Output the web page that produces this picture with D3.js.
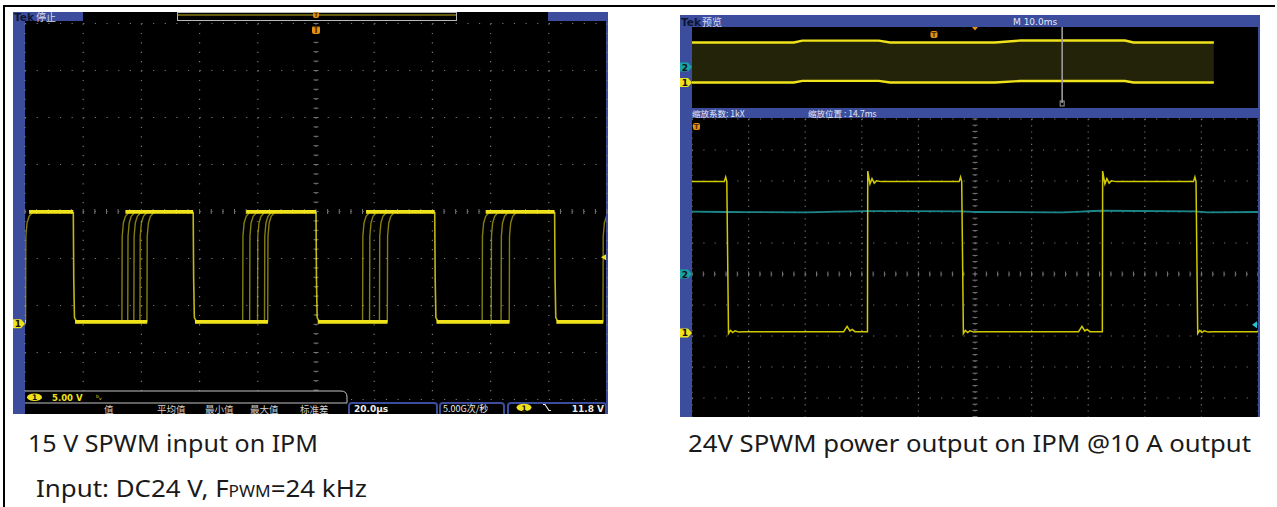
<!DOCTYPE html>
<html><head><meta charset="utf-8">
<script src="https://cdn.jsdelivr.net/npm/d3@7"></script>
<style>
body{margin:0;background:#fff}
svg{display:block}
text{font-family:"DejaVu Sans",sans-serif}
.cjk{font-family:"Noto Sans CJK SC",sans-serif}
.cap{font-family:"Noto Sans",sans-serif;font-size:24px;fill:#1a1a1a}
</style></head><body>
<svg id="c" width="1277" height="507"></svg>
<script>
// ---- left scope: ch1 5 V/div, 20 us/div, times in us from trigger ----
var leftFalls = [-83.4, -42.2, 0, 40.8, 82.0];
var leftRises = [[-99.8], [-66.7, -64.7, -62.6, -60.5, -58.1], [-25.2, -22.8, -20.1, -17.7, -16.6],
                 [16.0, 18.4, 21.8, 24.5], [57.1, 60.2, 63.6, 66.4], [98.6]];
var leftLevels = [0.2, 11.9];
var riseCurve = [[0, 0], [0.1, 0.78], [0.5, 0.9], [1.2, 0.96], [2.5, 1]];
var fallCurve = [[0, 1], [0.15, 0.4], [0.4, 0.04], [1.2, 0]];

// ---- right scope zoom window: ch1 5 V/div, ch2 5 A/div, 10 us/div ----
var rightFalls = [-43.9, -2.4, 39.0];
var rightRises = [-19.0, 22.5];
var rightLevels = [0.2, 24.4];
var ringRise = [[0, 0], [0.05, 1.07], [0.45, 0.985], [0.8, 1.02], [1.2, 0.99], [1.6, 1.006], [2.4, 1]];
var ringFall = [[-0.4, 1], [-0.15, 1.03], [0.05, 1.0], [0.35, -0.012], [0.7, 0.008], [1.1, -0.006], [1.5, 0.006], [2.2, -0.003], [3, 0]];
var bumpLow = [[-4.2, 0], [-3.6, 0.035], [-3.1, 0.005], [-2.7, 0.015], [-2.2, 0]];
var ch2Time = [-50, -44, -30, -19, -2.4, 0, 15, 22.5, 39, 41, 50];
var ch2Amp = [10.05, 10.0, 9.95, 10.15, 10.1, 10.0, 9.95, 10.2, 10.1, 9.95, 10.0];

// ---- right scope overview: 10 ms/div, envelope in volts ----
var ovTime = [0, 18, 19.5, 33, 35, 53.5, 58, 76.5, 78, 92.2];
var ovTop = [24, 24, 25.1, 25.1, 24, 24, 25.2, 25.2, 24, 24];
var ovBottom = [0, 0, 1.0, 1.0, 0, 0, 0.9, 0.9, 0, 0];
var zoomMark = 65.4;

var svg = d3.select('#c');
var BLUE = '#3b4d9c', YEL = '#f0e31c', GRID = '#767676', ORANGE = '#e8900e';

// table borders of the page
svg.append('rect').attr('x', 3).attr('y', 5).attr('width', 1272).attr('height', 2).attr('fill', '#000');
svg.append('rect').attr('x', 3).attr('y', 5).attr('width', 2).attr('height', 502).attr('fill', '#000');

function graticule(g, x, y, xt, yt, xc, yc) {
    var top = d3.min(y.range()), bot = d3.max(y.range());
    var left = d3.min(x.range()), right = d3.max(x.range());
    var dx = (x(xt[1]) - x(xt[0])) / 5, dy = Math.abs(y(yt[1]) - y(yt[0])) / 5;
    g.selectAll(null).data(xt).enter().append('line')
        .attr('x1', x).attr('x2', x).attr('y1', top).attr('y2', bot)
        .attr('stroke', GRID).attr('stroke-width', 1.2).attr('stroke-dasharray', '1.2,' + (dy - 1.2));
    g.selectAll(null).data(yt).enter().append('line')
        .attr('y1', y).attr('y2', y).attr('x1', left).attr('x2', right)
        .attr('stroke', GRID).attr('stroke-width', 1.2).attr('stroke-dasharray', '1.2,' + (dx - 1.2));
    g.selectAll(null).data(d3.range(left, right + 0.1, dx)).enter().append('line')
        .attr('x1', function(d) { return d; }).attr('x2', function(d) { return d; })
        .attr('y1', y(yc) - 2.5).attr('y2', y(yc) + 2.5).attr('stroke', GRID);
    g.selectAll(null).data(d3.range(top, bot + 0.1, dy)).enter().append('line')
        .attr('y1', function(d) { return d; }).attr('y2', function(d) { return d; })
        .attr('x1', x(xc) - 2.5).attr('x2', x(xc) + 2.5).attr('stroke', GRID);
}

function chanTag(g, x, y, label, fill) {
    g.append('path').attr('d', 'M' + x + ',' + (y - 4.5) + 'h8l4,4.5l-4,4.5h-8z').attr('fill', fill);
    g.append('text').attr('x', x + 5).attr('y', y + 3.5).attr('text-anchor', 'middle')
        .attr('font-size', 9).attr('font-weight', 'bold').attr('fill', '#111').text(label);
}

function trigTag(g, x, y, w) {
    g.append('rect').attr('x', x - w / 2).attr('y', y).attr('width', w).attr('height', w)
        .attr('rx', 2).attr('fill', ORANGE);
    g.append('text').attr('x', x).attr('y', y + w - 1.5).attr('text-anchor', 'middle')
        .attr('font-size', w).attr('font-weight', 'bold').attr('fill', '#5a2c00').text('T');
}

// =================== LEFT SCOPE ===================
svg.append('clipPath').attr('id', 'clipL').append('rect')
    .attr('x', 13).attr('y', 12).attr('width', 595).attr('height', 402);
svg.append('clipPath').attr('id', 'plotL').append('rect')
    .attr('x', 25).attr('y', 21).attr('width', 581).attr('height', 393);
var L = svg.append('g').attr('clip-path', 'url(#clipL)');
L.append('rect').attr('x', 13).attr('y', 12).attr('width', 595).attr('height', 402).attr('fill', BLUE);
L.append('rect').attr('x', 25).attr('y', 21).attr('width', 581).attr('height', 393).attr('fill', '#000');

// header
L.append('rect').attr('x', 83).attr('y', 12).attr('width', 465).attr('height', 9).attr('fill', '#000');
L.append('rect').attr('x', 177.5).attr('y', 12.5).attr('width', 279).attr('height', 8)
    .attr('fill', 'none').attr('stroke', '#b8b8b8').attr('stroke-width', 1);
L.append('line').attr('x1', 178).attr('x2', 456).attr('y1', 15).attr('y2', 15).attr('stroke', '#c9b21a').attr('stroke-width', 1.2);
L.append('text').attr('x', 14).attr('y', 20.5).attr('font-size', 10.5).attr('font-weight', 'bold').attr('fill', '#0e1430').text('Tek');
L.append('text').attr('class', 'cjk').attr('x', 36).attr('y', 20.5).attr('font-size', 10).attr('fill', '#d8dcf0').text('停止');

var xL = d3.scaleLinear().domain([-100, 100]).range([25, 607]);
var divL = d3.scaleLinear().domain([-4, 4]).range([399.5, 23.5]);
function ch1L(v) { return divL(v / 5 - 2.39); }

var gridL = L.append('g');
graticule(gridL, xL, divL, d3.range(-100, 101, 20), d3.range(-4, 5, 1), 0, 0);

var lineL = d3.line().x(function(d) { return xL(d[0]); }).y(function(d) { return ch1L(d[1]); });
var lo = leftLevels[0], hi = leftLevels[1];
function lvl(f, a, b) { return a + f * (b - a); }
var traceL = L.append('g').attr('clip-path', 'url(#plotL)');
leftRises.forEach(function(grp, k) {
    var prevFall = k == 0 ? -110 : leftFalls[k - 1];
    var nextFall = k < leftFalls.length ? leftFalls[k] : 110;
    var first = d3.min(grp), last = d3.max(grp);
    traceL.append('path').datum([[prevFall + 0.6, lo], [last + 0.1, lo]]).attr('d', lineL)
        .attr('stroke', YEL).attr('stroke-width', 3.8).attr('fill', 'none');
    traceL.append('path').datum([[first + 1.2, hi], [nextFall, hi]]).attr('d', lineL)
        .attr('stroke', YEL).attr('stroke-width', 3.8).attr('fill', 'none');
    grp.forEach(function(r) {
        traceL.append('path').datum(riseCurve.map(function(p) { return [r + p[0], lvl(p[1], lo, hi)]; }))
            .attr('d', lineL).attr('stroke', YEL).attr('stroke-width', 1.4).attr('opacity', 0.55).attr('fill', 'none');
    });
    if (k < leftFalls.length)
        traceL.append('path').datum(fallCurve.map(function(p) { return [nextFall + p[0], lvl(p[1], lo, hi)]; }))
            .attr('d', lineL).attr('stroke', YEL).attr('stroke-width', 1.6).attr('opacity', 0.8).attr('fill', 'none');
});

chanTag(L, 13, ch1L(0), '1', YEL);
trigTag(L, xL(0), 12, 6);
trigTag(L, xL(0), 26, 8);
L.append('path').attr('d', 'M' + 601 + ',' + ch1L(11.8 * 0.6) + 'l5,-3v6z').attr('fill', YEL);

// bottom readouts
L.append('path').attr('d', 'M25,414V391H341Q347,391 347,397V414Z').attr('fill', '#000');
L.append('path').attr('d', 'M25,391H341Q347,391 347,397V403H25').attr('fill', 'none').attr('stroke', '#c4c4c4').attr('stroke-width', 1);
L.append('ellipse').attr('cx', 34.5).attr('cy', 397.3).attr('rx', 7.5).attr('ry', 3.8).attr('fill', YEL);
L.append('text').attr('x', 34.5).attr('y', 400.3).attr('text-anchor', 'middle').attr('font-size', 7.5).attr('font-weight', 'bold').attr('fill', '#111').text('1');
L.append('text').attr('x', 52).attr('y', 401).attr('font-size', 8.5).attr('font-weight', 'bold').attr('fill', YEL).text('5.00 V');
L.append('text').attr('x', 96).attr('y', 400).attr('font-size', 7).attr('fill', YEL).text('ᵇᵥ');
[['值', 104], ['平均值', 157], ['最小值', 205], ['最大值', 250], ['标准差', 300]].forEach(function(d) {
    L.append('text').attr('class', 'cjk').attr('x', d[1]).attr('y', 412.5).attr('font-size', 9.5).attr('fill', '#cfcfcf').text(d[0]);
});
function box(x0, x1) {
    L.append('path').attr('d', 'M' + x0 + ',416V406Q' + x0 + ',403 ' + (x0 + 3) + ',403H' + (x1 - 3) + 'Q' + x1 + ',403 ' + x1 + ',406V416')
        .attr('fill', '#000').attr('stroke', BLUE).attr('stroke-width', 2);
}
box(349, 437); box(440, 504); box(508, 606);
L.append('text').attr('x', 354).attr('y', 412).attr('font-size', 9).attr('font-weight', 'bold').attr('fill', '#eee').text('20.0µs');
L.append('text').attr('x', 354).attr('y', 421).attr('font-size', 9).attr('font-weight', 'bold').attr('fill', ORANGE).text('T ▸ 0.0000');
L.append('text').attr('class', 'cjk').attr('x', 443).attr('y', 412).attr('font-size', 9).attr('fill', '#eee').text('5.00G次/秒');
L.append('text').attr('x', 448).attr('y', 421).attr('font-size', 9).attr('fill', '#aaa').text('100k点');
L.append('ellipse').attr('cx', 524).attr('cy', 407.5).attr('rx', 7.5).attr('ry', 3.8).attr('fill', YEL);
L.append('text').attr('x', 524).attr('y', 410.5).attr('text-anchor', 'middle').attr('font-size', 7.5).attr('font-weight', 'bold').attr('fill', '#111').text('1');
L.append('path').attr('d', 'M543,404.5h2l4,6h2').attr('fill', 'none').attr('stroke', '#eee').attr('stroke-width', 1.2);
L.append('text').attr('x', 604).attr('y', 412).attr('text-anchor', 'end').attr('font-size', 9).attr('font-weight', 'bold').attr('fill', '#eee').text('11.8 V');

// =================== RIGHT SCOPE ===================
svg.append('clipPath').attr('id', 'clipR').append('rect')
    .attr('x', 680).attr('y', 15).attr('width', 580).attr('height', 402);
svg.append('clipPath').attr('id', 'plotR').append('rect')
    .attr('x', 692).attr('y', 118).attr('width', 566).attr('height', 299);
svg.append('clipPath').attr('id', 'ovR').append('rect')
    .attr('x', 692).attr('y', 27).attr('width', 566).attr('height', 81);
var R = svg.append('g').attr('clip-path', 'url(#clipR)');
R.append('rect').attr('x', 680).attr('y', 15).attr('width', 580).attr('height', 402).attr('fill', BLUE);
R.append('rect').attr('x', 692).attr('y', 27).attr('width', 566).attr('height', 81).attr('fill', '#000');
R.append('rect').attr('x', 692).attr('y', 118).attr('width', 566).attr('height', 299).attr('fill', '#000');
R.append('text').attr('x', 681).attr('y', 25.5).attr('font-size', 10.5).attr('font-weight', 'bold').attr('fill', '#0e1430').text('Tek');
R.append('text').attr('class', 'cjk').attr('x', 702).attr('y', 25.5).attr('font-size', 10).attr('fill', '#d8dcf0').text('预览');
R.append('text').attr('x', 1013).attr('y', 25).attr('font-size', 9).attr('fill', '#e6e8f4').text('M 10.0ms');
R.append('text').attr('class', 'cjk').attr('x', 692).attr('y', 116.5).attr('font-size', 8.5).attr('fill', '#e6e8f4').text('缩放系数: 1kX');
R.append('text').attr('class', 'cjk').attr('x', 808).attr('y', 116.5).attr('font-size', 8.5).attr('fill', '#e6e8f4').text('缩放位置 :  14.7ms');

// overview
var ovX = d3.scaleLinear().domain([0, 100]).range([692, 1258]);
var ovY = d3.scaleLinear().domain([0, 24]).range([82.5, 42.5]);
var ov = R.append('g').attr('clip-path', 'url(#ovR)');
var idx = d3.range(ovTime.length);
ov.append('path').datum(idx).attr('fill', '#232309')
    .attr('d', d3.area().x(function(i) { return ovX(ovTime[i]); })
        .y0(function(i) { return ovY(ovBottom[i]); }).y1(function(i) { return ovY(ovTop[i]); }));
[ovTop, ovBottom].forEach(function(arr) {
    ov.append('path').datum(idx).attr('fill', 'none').attr('stroke', YEL).attr('stroke-width', 2.4)
        .attr('d', d3.line().x(function(i) { return ovX(ovTime[i]); }).y(function(i) { return ovY(arr[i]); }));
});
ov.append('line').attr('x1', ovX(zoomMark)).attr('x2', ovX(zoomMark)).attr('y1', 27).attr('y2', 103)
    .attr('stroke', '#9c9c9c').attr('stroke-width', 1.6);
ov.append('rect').attr('x', ovX(zoomMark) - 2).attr('y', 101).attr('width', 4).attr('height', 5)
    .attr('fill', 'none').attr('stroke', '#9c9c9c').attr('stroke-width', 1);
R.append('path').attr('d', 'M972,27h6l-3,3.5z').attr('fill', ORANGE);
trigTag(R, 934, 31, 7);
chanTag(R, 680, 67, '2', '#17a3a6');
chanTag(R, 680, ovY(0), '1', YEL);

// zoom window
var xR = d3.scaleLinear().domain([-50, 50]).range([692, 1258]);
var divR = d3.scaleLinear().domain([-5, 5]).range([429, 119]);
function ch1R(v) { return divR(v / 5 - 1.9); }
function ch2R(a) { return divR(a / 5); }
var plotR = R.append('g').attr('clip-path', 'url(#plotR)');
graticule(plotR, xR, divR, d3.range(-50, 51, 10), d3.range(-5, 6, 1), 0, 0);

plotR.append('path').datum(d3.range(ch2Time.length)).attr('fill', 'none')
    .attr('stroke', '#1c8689').attr('stroke-width', 1.8)
    .attr('d', d3.line().curve(d3.curveMonotoneX)
        .x(function(i) { return xR(ch2Time[i]); }).y(function(i) { return ch2R(ch2Amp[i]); }));

var rLo = rightLevels[0], rHi = rightLevels[1];
var events = rightFalls.map(function(t) { return { t: t, up: false }; })
    .concat(rightRises.map(function(t) { return { t: t, up: true }; }))
    .sort(function(a, b) { return a.t - b.t; });
var pts = [[-50, rHi]];
events.forEach(function(e) {
    var shape = e.up ? bumpLow.concat(ringRise) : ringFall;
    shape.forEach(function(p) { pts.push([e.t + p[0], lvl(p[1], rLo, rHi)]); });
});
pts.push([50, events[events.length - 1].up ? rHi : rLo]);
plotR.append('path').datum(pts).attr('fill', 'none').attr('stroke', '#d2ca00').attr('stroke-width', 1.5)
    .attr('d', d3.line().x(function(d) { return xR(d[0]); }).y(function(d) { return ch1R(d[1]); }));

trigTag(R, 696.5, 123, 7);
chanTag(R, 680, ch2R(0), '2', '#17a3a6');
chanTag(R, 680, ch1R(0), '1', YEL);
R.append('path').attr('d', 'M1252,' + ch2R(-8.2) + 'l5,-3.5v7z').attr('fill', '#27c3d0');

// =================== captions ===================
svg.append('text').attr('class', 'cap').attr('x', 28).attr('y', 452)
    .attr('textLength', 290).attr('lengthAdjust', 'spacingAndGlyphs').text('15 V SPWM input on IPM');
var c2 = svg.append('text').attr('class', 'cap').attr('x', 36).attr('y', 497)
    .attr('textLength', 331).attr('lengthAdjust', 'spacingAndGlyphs');
c2.append('tspan').text('Input: DC24 V, F');
c2.append('tspan').attr('font-size', 16).text('PWM');
c2.append('tspan').text('=24 kHz');
svg.append('text').attr('class', 'cap').attr('x', 688).attr('y', 452)
    .attr('textLength', 563).attr('lengthAdjust', 'spacingAndGlyphs').text('24V SPWM power output on IPM @10 A output');
</script></body></html>
